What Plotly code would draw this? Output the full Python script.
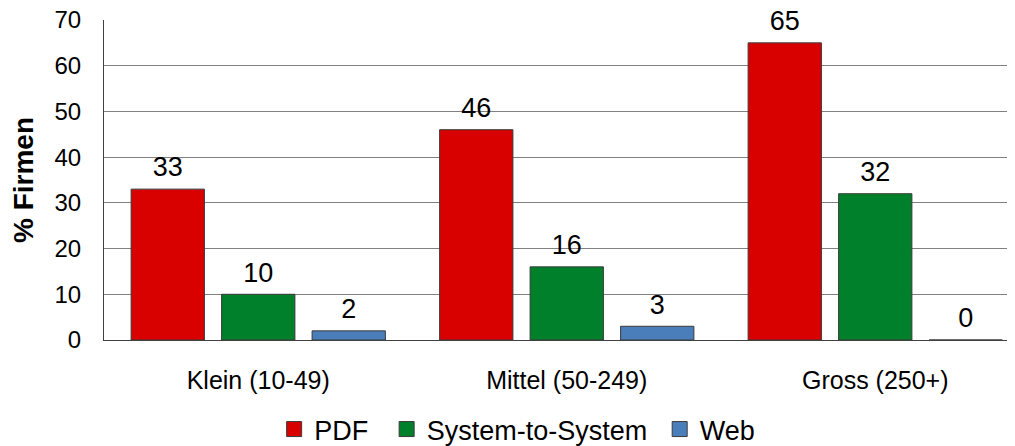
import plotly.graph_objects as go

categories = ["Klein (10-49)", "Mittel (50-249)", "Gross (250+)"]
series_names = ["PDF", "System-to-System", "Web"]
pdf_values = [33, 46, 65]
s2s_values = [10, 16, 32]
web_values = [2, 3, 0]
colors = ["#D90000", "#00802B", "#4A7EBB"]
legend_pad = ["\u2002", "\u00a0", ""]

FONT = "Liberation Sans, Arial"
fig = go.Figure()
for i, (name, vals, col) in enumerate(zip(series_names, [pdf_values, s2s_values, web_values], colors)):
    fig.add_trace(go.Bar(
        x=categories, y=vals, name=name, offsetgroup=str(i),
        marker=dict(color=col, line=dict(color="#3a3a3a", width=1)),
        showlegend=False,
    ))
for i, (name, vals, col) in enumerate(zip(series_names, [pdf_values, s2s_values, web_values], colors)):
    fig.add_trace(go.Scatter(
        x=categories, y=vals, name=name, offsetgroup=str(i),
        mode="markers+text", text=[str(v) for v in vals], textposition="top center",
        marker=dict(size=8, color="rgba(0,0,0,0)"),
        textfont=dict(family=FONT, size=27, color="#000000"),
        cliponaxis=False, showlegend=False, hoverinfo="skip",
    ))
for name, col, pad in zip(series_names, colors, legend_pad):
    fig.add_trace(go.Scatter(
        x=[None], y=[None], name=name + pad, mode="markers",
        marker=dict(symbol="square", size=15, color=col, line=dict(color="#3a3a3a", width=1)),
    ))

fig.update_layout(
    width=1007, height=438,
    margin=dict(l=96, r=0, t=12, b=106),
    paper_bgcolor="white", plot_bgcolor="white",
    barmode="group", bargap=0.12, bargroupgap=0.19,
    scattermode="group", scattergap=0.12,
    font=dict(family=FONT, color="#000000"),
    showlegend=True,
    legend=dict(orientation="h", x=0.4535, xanchor="center", xref="paper",
                y=1 - 421.5 / 438, yanchor="middle", yref="container",
                font=dict(size=27), itemwidth=30, traceorder="normal",
                bgcolor="rgba(0,0,0,0)"),
    xaxis=dict(range=[-0.5, 2.453], showline=True, linecolor="#404040", linewidth=1,
               tickfont=dict(size=25), ticks="", showgrid=False, automargin=False,
               ticklabelstandoff=18),
    yaxis=dict(range=[0, 70], dtick=10, showline=True, linecolor="#404040", linewidth=1,
               showgrid=True, gridcolor="#808080", gridwidth=1, zeroline=False,
               ticks="", tickfont=dict(size=24), automargin=False, ticklabelstandoff=17,
               ticklabeloverflow="allow",
               title=dict(text="<b>% Firmen</b>", font=dict(size=28), standoff=15)),
)

fig.write_html("out.html")
